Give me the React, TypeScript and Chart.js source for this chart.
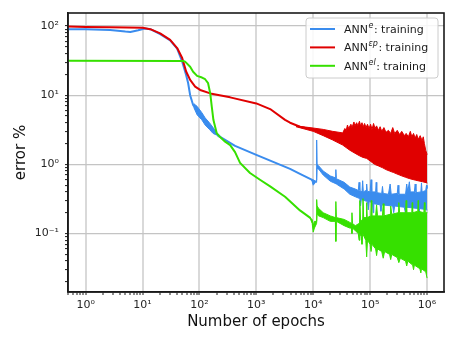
import React, { useEffect, useRef } from 'react';
import { Chart, registerables } from 'chart.js';

Chart.register(...registerables);

const W = 457;
const H = 343;

// ---------- ANN^e (blue) ----------
const blueEpochs = [0.5, 1, 2.7, 5, 6.1, 8.4, 11, 13.7, 20.4, 30.6, 40.6, 49.8, 58.4, 63.3, 68.7, 77.5, 91, 126, 188, 231, 423, 1000, 3920, 5850, 9380];
const blueError = [90, 90, 87.5, 83, 82, 87, 92, 90, 76, 62, 47, 30.5, 19.6, 15, 10, 7.2, 5.9, 4.2, 2.95, 2.5, 1.85, 1.37, 0.86, 0.73, 0.6];
const blueEarlyBandEpochs = [80, 91, 110, 126, 150, 174, 200, 215];
const blueEarlyBandHigh = [7.5, 6.9, 5.6, 4.7, 4.0, 3.4, 2.85, 2.55];
const blueEarlyBandLow = [6.6, 5.2, 4.4, 3.7, 3.2, 2.8, 2.65, 2.5];
const blueHighEpochs = [9380, 10000, 11000, 11480, 11500, 11700, 12500, 15000, 20000, 24500, 25000, 25500, 35000, 44000, 55000, 62000, 64000, 66000, 72000, 74000, 76000, 85000, 87000, 89000, 100000, 104000, 107000, 125000, 128000, 131000, 160000, 165000, 170000, 210000, 225000, 235000, 300000, 310000, 320000, 420000, 440000, 460000, 490000, 510000, 600000, 620000, 640000, 780000, 800000, 820000, 950000, 980000, 1000000];
const blueHigh = [0.6, 0.6, 0.57, 0.6, 2.25, 1.0, 0.95, 0.8, 0.68, 0.64, 0.84, 0.62, 0.55, 0.47, 0.44, 0.42, 0.55, 0.42, 0.4, 0.58, 0.4, 0.42, 0.52, 0.41, 0.4, 0.6, 0.4, 0.4, 0.55, 0.39, 0.38, 0.48, 0.38, 0.37, 0.52, 0.37, 0.38, 0.5, 0.37, 0.37, 0.52, 0.4, 0.56, 0.4, 0.4, 0.52, 0.39, 0.4, 0.54, 0.4, 0.42, 0.5, 0.45];
const blueLowEpochs = [9380, 10000, 11000, 11480, 11500, 11700, 12500, 15000, 20000, 24500, 25000, 25500, 35000, 44000, 55000, 66000, 68000, 70000, 90000, 93000, 96000, 110000, 113000, 116000, 150000, 155000, 160000, 250000, 260000, 270000, 400000, 420000, 440000, 700000, 720000, 740000, 1000000];
const blueLow = [0.6, 0.5, 0.55, 0.55, 0.55, 0.88, 0.85, 0.7, 0.57, 0.53, 0.52, 0.52, 0.44, 0.37, 0.34, 0.32, 0.25, 0.31, 0.29, 0.22, 0.29, 0.28, 0.2, 0.27, 0.26, 0.21, 0.26, 0.25, 0.2, 0.25, 0.24, 0.19, 0.24, 0.23, 0.18, 0.23, 0.22];

// ---------- ANN^εp (red) ----------
const redEpochs = [0.5, 1, 2.7, 10, 13.7, 20.4, 30.6, 40.6, 49.8, 58.4, 68.7, 84.1, 103, 155, 347, 1000, 1750, 3200, 3920, 5850, 10000];
const redError = [98, 97, 96, 94, 90, 78, 63, 48, 34.5, 22, 16.6, 13.3, 11.9, 10.6, 9.3, 7.6, 6.3, 4.4, 4.0, 3.5, 3.15];
const redHighEpochs = [5000, 10000, 15000, 22000, 33000, 36000, 38000, 40000, 42000, 46000, 48000, 52000, 54000, 58000, 61000, 65000, 68000, 72000, 76000, 80000, 85000, 90000, 96000, 102000, 108000, 115000, 122000, 130000, 140000, 150000, 160000, 175000, 190000, 210000, 230000, 250000, 270000, 300000, 330000, 360000, 400000, 430000, 470000, 510000, 540000, 580000, 620000, 660000, 700000, 760000, 820000, 860000, 900000, 950000, 1000000];
const redHigh = [3.6, 3.35, 3.2, 3.0, 2.85, 3.3, 3.1, 3.7, 3.3, 3.8, 3.4, 4.1, 3.6, 4.0, 3.6, 4.2, 3.6, 4.0, 3.5, 3.9, 3.4, 3.8, 3.3, 3.8, 3.2, 3.9, 3.3, 3.6, 3.1, 3.5, 3.0, 3.4, 2.9, 3.1, 2.8, 3.4, 2.8, 3.1, 2.7, 3.0, 2.6, 2.8, 2.5, 3.0, 2.5, 2.8, 2.4, 2.7, 2.3, 2.6, 2.2, 2.5, 2.0, 1.6, 1.4];
const redLowEpochs = [5000, 10000, 15000, 22000, 33000, 44000, 54000, 65000, 75000, 87000, 100000, 120000, 140000, 167000, 190000, 220000, 260000, 330000, 420000, 500000, 630000, 840000, 1000000];
const redLow = [3.5, 3.0, 2.6, 2.25, 1.9, 1.6, 1.45, 1.33, 1.26, 1.22, 1.12, 1.0, 0.95, 0.89, 0.84, 0.8, 0.76, 0.7, 0.65, 0.62, 0.59, 0.56, 0.54];

// ---------- ANN^el (green) ----------
const greenEpochs = [0.5, 52, 56, 68.7, 77.5, 91, 111, 126, 142, 155, 165, 176, 202, 231, 283, 347, 423, 518, 775, 1160, 1750, 3200, 5850, 8750];
const greenError = [31.5, 31.2, 30.5, 25.8, 21.8, 19, 18, 17, 14.9, 10.6, 6.8, 4.4, 2.8, 2.48, 2.13, 1.9, 1.5, 1.05, 0.75, 0.6, 0.48, 0.34, 0.216, 0.17];
const greenHighEpochs = [8750, 9600, 10000, 10500, 11480, 11500, 11700, 12500, 15000, 20000, 24500, 25000, 25500, 35000, 44000, 47000, 48000, 49000, 55000, 64000, 66000, 68000, 73000, 75000, 77000, 85000, 87000, 89000, 103000, 105000, 107000, 125000, 130000, 135000, 165000, 170000, 175000, 225000, 230000, 240000, 310000, 320000, 330000, 420000, 430000, 440000, 540000, 550000, 560000, 690000, 700000, 710000, 880000, 900000, 920000, 1000000];
const greenHigh = [0.17, 0.16, 0.13, 0.15, 0.15, 0.31, 0.25, 0.23, 0.2, 0.18, 0.17, 0.29, 0.17, 0.16, 0.145, 0.14, 0.2, 0.14, 0.13, 0.14, 0.3, 0.15, 0.16, 0.32, 0.17, 0.17, 0.28, 0.17, 0.18, 0.3, 0.18, 0.18, 0.26, 0.18, 0.18, 0.27, 0.18, 0.19, 0.25, 0.19, 0.2, 0.28, 0.2, 0.2, 0.3, 0.2, 0.2, 0.28, 0.2, 0.21, 0.3, 0.21, 0.2, 0.28, 0.2, 0.2];
const greenLowEpochs = [8750, 9600, 10000, 10500, 11480, 11500, 11700, 12500, 15000, 20000, 24500, 25000, 25500, 35000, 44000, 47000, 48000, 49000, 55000, 62000, 64000, 66000, 70000, 72000, 74000, 84000, 87000, 90000, 100000, 104000, 108000, 125000, 130000, 135000, 160000, 170000, 180000, 220000, 230000, 240000, 300000, 320000, 340000, 420000, 440000, 460000, 560000, 580000, 600000, 750000, 780000, 800000, 950000, 1000000];
const greenLow = [0.17, 0.14, 0.105, 0.12, 0.14, 0.14, 0.19, 0.18, 0.17, 0.15, 0.15, 0.077, 0.15, 0.13, 0.12, 0.12, 0.1, 0.12, 0.11, 0.1, 0.08, 0.1, 0.09, 0.07, 0.1, 0.08, 0.046, 0.08, 0.07, 0.055, 0.07, 0.06, 0.048, 0.06, 0.055, 0.044, 0.055, 0.05, 0.042, 0.05, 0.045, 0.038, 0.044, 0.04, 0.034, 0.04, 0.035, 0.03, 0.035, 0.031, 0.027, 0.031, 0.028, 0.023];

// ---------- axes / legend text ----------
const xTickValues = [1, 10, 100, 1000, 10000, 100000, 1000000];
const xTickLabels = ['10⁰', '10¹', '10²', '10³', '10⁴', '10⁵', '10⁶'];
const yTickValues = [0.1, 1, 10, 100];
const yTickLabels = ['10⁻¹', '10⁰', '10¹', '10²'];
const xTitle = 'Number of epochs';
const yTitle = 'error %';
const legendBase = ['ANN', 'ANN', 'ANN'];
const legendSup = ['e', 'εp', 'el'];
const legendSuffix = [': training', ': training', ': training'];

const BLUE = '#3a8cee';
const RED = '#e00000';
const GREEN = '#36e000';
const FONT = "'DejaVu Sans', sans-serif";

const pts = (xs: number[], ys: number[]) => xs.map((x, i) => ({ x, y: ys[i] }));

const minorTicks = (min: number, max: number) => {
  const out: { value: number; major: boolean }[] = [];
  for (let e = -3; e <= 7; e++) {
    for (let m = 1; m <= 9; m++) {
      const v = Number((m * Math.pow(10, e)).toPrecision(8));
      if (v >= min && v <= max) out.push({ value: v, major: m === 1 });
    }
  }
  return out;
};

const isMajor = (vals: number[], v: number) => vals.some((t) => Math.abs(t - v) / t < 1e-6);

const frameAndLegend = {
  id: 'frameAndLegend',
  afterDraw(chart: any) {
    const ctx = chart.ctx;
    const ca = chart.chartArea;
    ctx.save();
    const bx = ca.right - 138;
    const by = ca.top + 5;
    const bw = 132;
    const bh = 60;
    const r = 3;
    ctx.beginPath();
    ctx.moveTo(bx + r, by);
    ctx.lineTo(bx + bw - r, by);
    ctx.arcTo(bx + bw, by, bx + bw, by + r, r);
    ctx.lineTo(bx + bw, by + bh - r);
    ctx.arcTo(bx + bw, by + bh, bx + bw - r, by + bh, r);
    ctx.lineTo(bx + r, by + bh);
    ctx.arcTo(bx, by + bh, bx, by + bh - r, r);
    ctx.lineTo(bx, by + r);
    ctx.arcTo(bx, by, bx + r, by, r);
    ctx.closePath();
    ctx.fillStyle = 'rgba(255,255,255,0.85)';
    ctx.fill();
    ctx.strokeStyle = '#cccccc';
    ctx.lineWidth = 1;
    ctx.stroke();
    const colors = [BLUE, RED, GREEN];
    for (let i = 0; i < 3; i++) {
      const ry = by + 11 + i * 18.4;
      ctx.strokeStyle = colors[i];
      ctx.lineWidth = 2;
      ctx.beginPath();
      ctx.moveTo(bx + 4, ry);
      ctx.lineTo(bx + 29, ry);
      ctx.stroke();
      ctx.fillStyle = '#1a1a1a';
      ctx.textBaseline = 'alphabetic';
      ctx.textAlign = 'left';
      ctx.font = `11px ${FONT}`;
      let tx = bx + 38;
      const base = ry + 4;
      ctx.fillText(legendBase[i], tx, base);
      tx += ctx.measureText(legendBase[i]).width + 0.5;
      ctx.font = `italic 8px ${FONT}`;
      ctx.fillText(legendSup[i], tx, base - 5);
      tx += ctx.measureText(legendSup[i]).width + 0.5;
      ctx.font = `11px ${FONT}`;
      ctx.fillText(legendSuffix[i], tx, base);
    }
    ctx.strokeStyle = '#1a1a1a';
    ctx.lineWidth = 1.6;
    ctx.strokeRect(ca.left, ca.top, ca.right - ca.left, ca.bottom - ca.top);
    ctx.restore();
  },
};

export default function App() {
  const ref = useRef<HTMLCanvasElement | null>(null);
  useEffect(() => {
    if (!ref.current) return;
    const lineDs = (data: any[], color: string, width: number, fill: any = false) => ({
      data,
      borderColor: color,
      backgroundColor: color,
      borderWidth: width,
      pointRadius: 0,
      tension: 0,
      fill,
      borderJoinStyle: 'round' as const,
      borderCapStyle: 'round' as const,
    });
    const xMin = 0.49;
    const xMax = 1.99e6;
    const yMin = 0.0143;
    const yMax = 154;
    const chart = new Chart(ref.current, {
      type: 'line',
      data: {
        datasets: [
          lineDs(pts(greenEpochs, greenError), GREEN, 2),
          lineDs(pts(greenHighEpochs, greenHigh), GREEN, 1),
          lineDs(pts(greenLowEpochs, greenLow), GREEN, 1, '-1'),
          lineDs(pts(redEpochs, redError), RED, 2),
          lineDs(pts(redHighEpochs, redHigh), RED, 1),
          lineDs(pts(redLowEpochs, redLow), RED, 1, '-1'),
          lineDs(pts(blueEpochs, blueError), BLUE, 2),
          lineDs(pts(blueEarlyBandEpochs, blueEarlyBandHigh), BLUE, 1),
          lineDs(pts(blueEarlyBandEpochs, blueEarlyBandLow), BLUE, 1, '-1'),
          lineDs(pts(blueHighEpochs, blueHigh), BLUE, 1),
          lineDs(pts(blueLowEpochs, blueLow), BLUE, 1, '-1'),
        ] as any,
      },
      options: {
        responsive: false,
        animation: false,
        events: [],
        parsing: false as any,
        normalized: true,
        layout: { padding: { left: 0, right: 13, top: 13, bottom: 12 } },
        plugins: {
          legend: { display: false },
          tooltip: { enabled: false },
        },
        scales: {
          x: {
            type: 'logarithmic',
            min: xMin,
            max: xMax,
            afterBuildTicks: (scale: any) => {
              scale.ticks = minorTicks(xMin, xMax);
            },
            afterFit: (scale: any) => {
              scale.height = 39;
            },
            ticks: {
              autoSkip: false,
              maxRotation: 0,
              minRotation: 0,
              padding: 4,
              color: '#262626',
              font: { family: FONT, size: 11 },
              callback: (v: any) => {
                const i = xTickValues.findIndex((t) => Math.abs(t - v) / t < 1e-6);
                return i >= 0 ? xTickLabels[i] : '';
              },
            },
            grid: {
              color: (c: any) => (c.tick && isMajor(xTickValues, c.tick.value) ? '#d9d9d9' : 'rgba(0,0,0,0)'),
              lineWidth: 2,
              tickColor: '#1a1a1a',
              tickWidth: 1,
              tickLength: 3,
            },
            border: { display: true, color: '#1a1a1a', width: 1.6 },
            title: {
              display: true,
              text: xTitle,
              color: '#111111',
              font: { family: FONT, size: 15 },
              padding: { top: 0, bottom: 0 },
            },
          },
          y: {
            type: 'logarithmic',
            min: yMin,
            max: yMax,
            afterBuildTicks: (scale: any) => {
              scale.ticks = minorTicks(yMin, yMax);
            },
            afterFit: (scale: any) => {
              scale.width = 68;
            },
            ticks: {
              autoSkip: false,
              padding: 6,
              color: '#262626',
              font: { family: FONT, size: 11 },
              callback: (v: any) => {
                const i = yTickValues.findIndex((t) => Math.abs(t - v) / t < 1e-6);
                return i >= 0 ? yTickLabels[i] : '';
              },
            },
            grid: {
              color: (c: any) => (c.tick && isMajor(yTickValues, c.tick.value) ? '#c4c4c4' : 'rgba(0,0,0,0)'),
              lineWidth: 1.2,
              tickColor: '#1a1a1a',
              tickWidth: 1,
              tickLength: 3,
            },
            border: { display: true, color: '#1a1a1a', width: 1.6 },
            title: {
              display: true,
              text: yTitle,
              color: '#111111',
              font: { family: FONT, size: 15 },
              padding: { top: 12, bottom: 0 },
            },
          },
        },
      } as any,
      plugins: [frameAndLegend],
    });
    return () => chart.destroy();
  }, []);
  return (
    <div style={{ position: 'fixed', left: 0, top: 0, width: W, height: H, background: '#fff' }}>
      <canvas ref={ref} width={W} height={H} style={{ display: 'block', width: W, height: H }} />
    </div>
  );
}
